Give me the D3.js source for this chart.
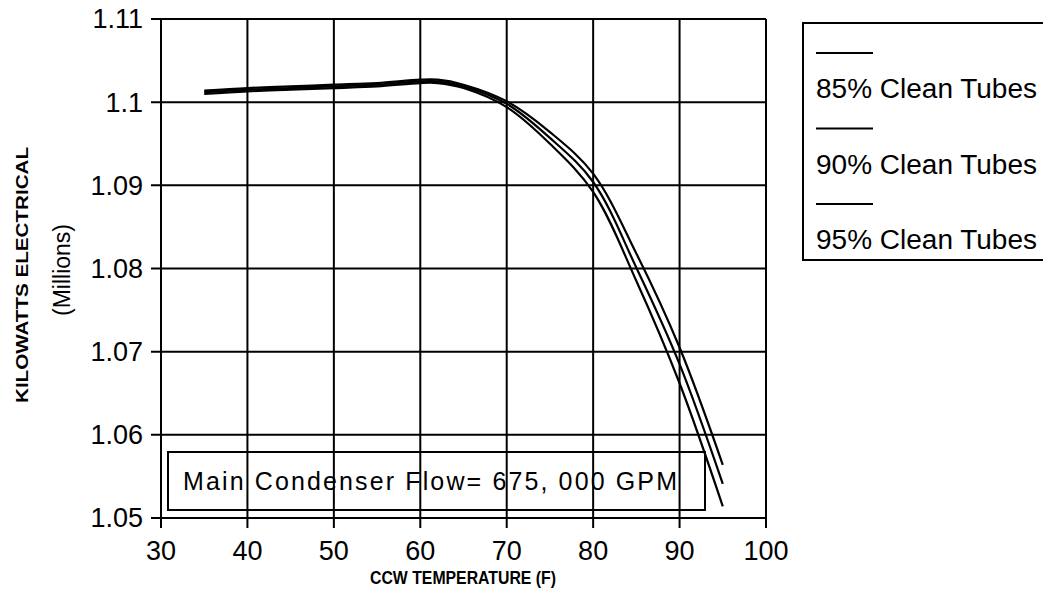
<!DOCTYPE html>
<html>
<head>
<meta charset="utf-8">
<script src="https://cdn.jsdelivr.net/npm/d3@7"></script>
<style>
  body { margin: 0; background: #fff; }
  svg { display: block; font-family: "Liberation Sans", Arial, sans-serif; }
</style>
</head>
<body>
<svg id="chart" width="1043" height="594"></svg>
<script>
// values
var temps = [35, 40, 45, 50, 55, 60, 62, 65, 70, 75, 80, 85, 90, 95];
var kw85 = [1.1010, 1.1013, 1.1015, 1.1017, 1.1019, 1.1023, 1.1023, 1.1017, 1.0994, 1.0950, 1.0892, 1.0785, 1.0662, 1.0514];
var kw90 = [1.1012, 1.1015, 1.1017, 1.1019, 1.1021, 1.1025, 1.1025, 1.1019, 1.0998, 1.0957, 1.0904, 1.0801, 1.0685, 1.0541];
var kw95 = [1.1014, 1.1017, 1.1019, 1.1021, 1.1023, 1.1027, 1.1027, 1.1021, 1.1001, 1.0964, 1.0914, 1.0818, 1.0705, 1.0564];
var seriesNames = ['85% Clean Tubes', '90% Clean Tubes', '95% Clean Tubes'];
var xTicks = [30, 40, 50, 60, 70, 80, 90, 100];
var yTicks = [1.05, 1.06, 1.07, 1.08, 1.09, 1.1, 1.11];
var yTickLabels = ['1.05', '1.06', '1.07', '1.08', '1.09', '1.1', '1.11'];
var note = 'Main Condenser Flow= 675, 000 GPM';

var svg = d3.select('#chart');
var x = d3.scaleLinear().domain([30, 100]).range([161, 766]);
var y = d3.scaleLinear().domain([1.05, 1.11]).range([518, 19]);

// grid + outward ticks
var grid = svg.append('g');
grid.selectAll('.vg').data(xTicks).enter().append('line')
    .attr('x1', function (d) { return x(d); }).attr('x2', function (d) { return x(d); })
    .attr('y1', y(1.11)).attr('y2', y(1.05) + 10)
    .attr('stroke', '#000').attr('stroke-width', 2);
grid.selectAll('.hg').data(yTicks).enter().append('line')
    .attr('x1', x(30) - 10).attr('x2', x(100))
    .attr('y1', function (d) { return y(d); }).attr('y2', function (d) { return y(d); })
    .attr('stroke', '#000').attr('stroke-width', 2);

// tick labels
svg.append('g').selectAll('text').data(yTicks).enter().append('text')
    .attr('x', 143).attr('y', function (d) { return y(d); })
    .attr('dy', '0.35em').attr('text-anchor', 'end')
    .attr('font-size', 27)
    .text(function (d, i) { return yTickLabels[i]; });
svg.append('g').selectAll('text').data(xTicks).enter().append('text')
    .attr('x', function (d) { return x(d); }).attr('y', 560)
    .attr('text-anchor', 'middle')
    .attr('font-size', 27)
    .text(function (d) { return d; });

// axis titles
svg.append('text')
    .attr('transform', 'translate(28,275) rotate(-90)')
    .attr('text-anchor', 'middle').attr('font-size', 17).attr('font-weight', 'bold')
    .attr('textLength', 256).attr('lengthAdjust', 'spacingAndGlyphs')
    .text('KILOWATTS ELECTRICAL');
svg.append('text')
    .attr('transform', 'translate(70,270) rotate(-90)')
    .attr('text-anchor', 'middle').attr('font-size', 23)
    .text('(Millions)');
svg.append('text')
    .attr('x', 463).attr('y', 584)
    .attr('text-anchor', 'middle').attr('font-size', 18).attr('font-weight', 'bold')
    .attr('textLength', 186).attr('lengthAdjust', 'spacingAndGlyphs')
    .text('CCW TEMPERATURE (F)');

// note box
svg.append('rect')
    .attr('x', 168).attr('y', 452).attr('width', 537).attr('height', 58)
    .attr('fill', 'none').attr('stroke', '#000').attr('stroke-width', 2);
svg.append('text')
    .attr('x', 183).attr('y', 490).attr('font-size', 25)
    .attr('textLength', 494).attr('lengthAdjust', 'spacing')
    .text(note);

// curves
var line = d3.line()
    .x(function (d) { return x(d[0]); })
    .y(function (d) { return y(d[1]); })
    .curve(d3.curveCatmullRom.alpha(0.5));
[kw85, kw90, kw95].forEach(function (vals) {
    svg.append('path')
        .datum(d3.zip(temps, vals))
        .attr('d', line)
        .attr('fill', 'none').attr('stroke', '#000').attr('stroke-width', 2.2);
});

// legend
var legend = svg.append('g');
legend.append('rect')
    .attr('x', 803).attr('y', 23).attr('width', 260).attr('height', 237)
    .attr('fill', 'none').attr('stroke', '#000').attr('stroke-width', 2);
var items = legend.selectAll('g').data(seriesNames).enter().append('g')
    .attr('transform', function (d, i) { return 'translate(0,' + (i * 75.5) + ')'; });
items.append('line')
    .attr('x1', 816).attr('x2', 873).attr('y1', 53).attr('y2', 53)
    .attr('stroke', '#000').attr('stroke-width', 2);
items.append('text')
    .attr('x', 816).attr('y', 98).attr('font-size', 27)
    .attr('textLength', 221).attr('lengthAdjust', 'spacingAndGlyphs')
    .text(function (d) { return d; });
</script>
</body>
</html>
